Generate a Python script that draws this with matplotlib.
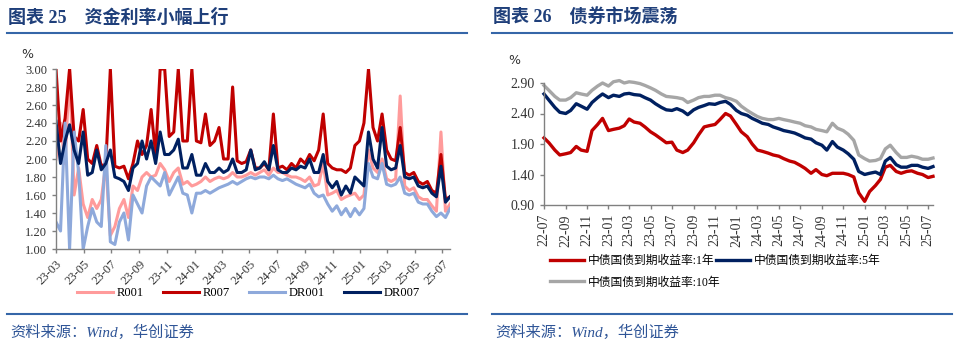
import pandas as pd
import matplotlib.pyplot as plt
import matplotlib.dates as mdates
from matplotlib.lines import Line2D

plt.rcParams['font.family'] = ['Liberation Serif', 'Noto Sans CJK SC']

# ---- data: left chart (every 10 days from 2023-03-01) ----
left_start = '2023-03-01'
r001 = [2.00, 2.40, 1.95, 3.00, 1.60, 1.90, 1.50, 1.35, 1.55, 1.45,
        1.55, 1.95, 1.15, 1.25, 1.45, 1.55, 1.35, 1.70, 1.65, 1.80,
        1.85, 1.80, 1.82, 1.95, 1.88, 1.75, 1.85, 1.90, 1.72, 1.75,
        1.70, 1.72, 1.75, 1.80, 1.75, 1.78, 1.80, 1.78, 1.80, 1.85,
        1.80, 1.80, 1.82, 1.85, 1.82, 1.85, 1.88, 1.82, 1.90, 1.85,
        1.85, 1.82, 1.80, 1.80, 1.78, 1.75, 1.80, 1.70, 1.72, 1.95,
        1.60, 1.62, 1.65, 1.55, 1.58, 1.60, 1.62, 1.55, 1.60, 2.10,
        1.90, 1.85, 2.00, 1.78, 1.75, 1.78, 2.70, 1.70, 1.65, 1.68,
        1.58, 1.55, 1.55, 1.48, 1.42, 2.30, 1.42, 1.50]
r007 = [3.00, 2.20, 2.45, 3.00, 2.25, 2.20, 2.55, 2.00, 1.95, 2.15,
        1.92, 1.95, 3.00, 1.92, 1.90, 1.92, 1.78, 1.95, 2.20, 2.05,
        2.15, 2.55, 2.05, 3.00, 3.00, 2.25, 2.30, 3.00, 2.20, 2.20,
        3.00, 2.20, 2.18, 2.50, 2.15, 2.20, 2.35, 2.00, 2.00, 2.80,
        1.98, 1.95, 1.97, 2.10, 1.90, 1.90, 1.95, 1.88, 2.50, 1.90,
        1.92, 1.88, 1.95, 1.90, 2.00, 1.95, 2.05, 1.98, 2.10, 2.50,
        1.95, 1.90, 1.88, 1.88, 1.85, 1.90, 2.15, 2.20, 2.40, 3.00,
        2.35, 2.20, 2.50, 2.10, 2.00, 1.98, 2.35, 1.85, 1.82, 1.85,
        1.75, 1.72, 1.75, 1.65, 1.62, 2.05, 1.55, 1.58]
dr001 = [1.30, 1.20, 2.40, 1.00, 2.30, 1.85, 1.00, 1.25, 1.45, 1.30,
         1.25, 2.15, 1.08, 1.05, 1.30, 1.40, 1.10, 1.60, 1.50, 1.40,
         1.70, 1.80, 1.75, 1.70, 1.85, 1.60, 1.70, 1.80, 1.62, 1.60,
         1.40, 1.62, 1.62, 1.65, 1.62, 1.65, 1.68, 1.70, 1.72, 1.75,
         1.72, 1.75, 1.78, 1.80, 1.78, 1.80, 1.80, 1.78, 1.82, 1.78,
         1.76, 1.78, 1.75, 1.72, 1.70, 1.68, 1.72, 1.62, 1.58, 1.60,
         1.50, 1.42, 1.48, 1.38, 1.45, 1.36, 1.45, 1.38, 1.45, 1.95,
         1.80, 1.78, 1.95, 1.72, 1.70, 1.72, 1.80, 1.62, 1.60, 1.62,
         1.52, 1.50, 1.50, 1.42, 1.36, 1.40, 1.35, 1.45]
dr007 = [2.42, 1.95, 2.20, 2.38, 2.10, 1.95, 2.30, 1.82, 1.85, 2.10,
         1.88, 1.95, 2.10, 1.80, 1.78, 1.75, 1.65, 1.90, 1.95, 2.20,
         2.00, 2.20, 1.95, 2.30, 2.05, 2.05, 2.10, 2.22, 1.90, 1.90,
         2.05, 1.82, 1.82, 1.95, 1.85, 1.85, 1.90, 1.85, 1.88, 2.00,
         1.85, 1.85, 1.88, 2.10, 1.88, 1.90, 1.97, 1.88, 2.15, 1.88,
         1.85, 1.85, 1.90, 1.88, 1.92, 1.90, 2.00, 1.85, 1.85, 2.05,
         1.75, 1.68, 1.75, 1.60, 1.70, 1.62, 1.80, 1.75, 1.70, 2.30,
         2.00, 1.90, 2.35, 1.92, 1.88, 1.90, 2.15, 1.80, 1.78, 1.80,
         1.70, 1.68, 1.70, 1.62, 1.58, 1.92, 1.52, 1.58]

# ---- data: right chart (semi-monthly from 2022-07-01) ----
right_start = '2022-07-01'
y1 = [2.00, 1.92, 1.80, 1.72, 1.74, 1.76, 1.86, 1.80, 1.78, 2.12,
      2.22, 2.32, 2.12, 2.14, 2.16, 2.20, 2.31, 2.26, 2.24, 2.18,
      2.10, 2.05, 1.98, 1.92, 1.93, 1.80, 1.76, 1.80, 1.92, 2.05,
      2.18, 2.20, 2.22, 2.30, 2.40, 2.36, 2.22, 2.10, 2.02, 1.90,
      1.80, 1.78, 1.75, 1.72, 1.70, 1.66, 1.62, 1.60, 1.55, 1.50,
      1.42, 1.48, 1.40, 1.38, 1.42, 1.42, 1.42, 1.40, 1.36, 1.10,
      0.96, 1.12, 1.22, 1.32, 1.52, 1.55, 1.45, 1.42, 1.45, 1.46,
      1.42, 1.40, 1.35, 1.37]
y5 = [2.72, 2.62, 2.50, 2.42, 2.40, 2.45, 2.56, 2.52, 2.47, 2.58,
      2.66, 2.72, 2.66, 2.70, 2.68, 2.72, 2.73, 2.71, 2.70, 2.66,
      2.62, 2.56, 2.50, 2.46, 2.45, 2.48, 2.44, 2.38, 2.46, 2.50,
      2.53, 2.56, 2.55, 2.58, 2.60, 2.55, 2.45, 2.40, 2.37, 2.32,
      2.28, 2.24, 2.22, 2.18, 2.15, 2.12, 2.10, 2.08, 2.04, 2.00,
      1.98, 1.92, 1.88, 1.80, 1.94, 1.85, 1.80, 1.74, 1.65, 1.45,
      1.40, 1.42, 1.44, 1.40, 1.62, 1.68, 1.56, 1.52, 1.52, 1.55,
      1.55, 1.52, 1.50, 1.53]
y10 = [2.86, 2.78, 2.68, 2.62, 2.62, 2.66, 2.74, 2.72, 2.70, 2.78,
       2.85, 2.90, 2.85, 2.92, 2.94, 2.90, 2.92, 2.91, 2.89, 2.86,
       2.82, 2.78, 2.72, 2.68, 2.67, 2.66, 2.64, 2.58, 2.62, 2.66,
       2.68, 2.68, 2.70, 2.70, 2.66, 2.64, 2.60, 2.52, 2.45, 2.40,
       2.35, 2.32, 2.30, 2.30, 2.32, 2.30, 2.28, 2.26, 2.24, 2.20,
       2.18, 2.14, 2.12, 2.10, 2.24, 2.16, 2.12, 2.06, 1.96, 1.72,
       1.66, 1.62, 1.63, 1.66, 1.82, 1.88, 1.76, 1.68, 1.68, 1.70,
       1.68, 1.65, 1.65, 1.67]

left_dates = pd.date_range(left_start, periods=len(r001), freq='10D')
right_dates = pd.date_range(right_start, periods=len(y1), freq='SMS')

W, H = 960, 354
def fx(x):
    return x / W
def fy(y):
    return 1 - y / H

title_c = '#1F3F7A'
rule_c = '#3566A8'
src_c = '#2F5597'
spine_c = '#808080'

fig = plt.figure(figsize=(9.6, 3.54), dpi=100)

# titles, rules and source lines
for x0, x1, title in [(7, 467, '图表 25    资金利率小幅上行'),
                      (492, 952, '图表 26    债券市场震荡')]:
    fig.text(fx(x0 + 1), fy(18), title, fontsize=13, fontweight='bold',
             color=title_c, va='center', ha='left')
    fig.add_artist(Line2D([fx(x0), fx(x1)], [fy(33), fy(33)], color=rule_c, lw=1.5))
    fig.add_artist(Line2D([fx(x0), fx(x1)], [fy(314), fy(314)], color=rule_c, lw=1.5))
    fig.text(fx(x0 + 3), fy(332), '资料来源：Wind，华创证券', fontsize=11,
             color=src_c, va='center', ha='left', style='italic')

def style_axes(ax, size):
    for s in ['top', 'right']:
        ax.spines[s].set_visible(False)
    for s in ['left', 'bottom']:
        ax.spines[s].set_color(spine_c)
        ax.spines[s].set_linewidth(1)
    ax.tick_params(axis='both', colors=spine_c, length=3, width=1, labelsize=size,
                   labelcolor='#333333')

# ---- left chart ----
ax1 = fig.add_axes([fx(56), fy(249), fx(450) - fx(56), fy(69) - fy(249)])
ax1.plot(left_dates, r001, color='#FF9B9B', lw=2.2, label='R001')
ax1.plot(left_dates, r007, color='#C00000', lw=2.2, label='R007')
ax1.plot(left_dates, dr001, color='#8EA9DB', lw=2.2, label='DR001')
ax1.plot(left_dates, dr007, color='#002060', lw=2.2, label='DR007')
ax1.set_ylim(1.0, 3.0)
ax1.set_yticks([1.0 + 0.2 * k for k in range(11)])
ax1.yaxis.set_major_formatter(plt.FormatStrFormatter('%.2f'))
ax1.set_xlim(left_dates[0], left_dates[-1])
ax1.set_xticks(pd.date_range('2023-03-01', '2025-07-01', freq='2MS'))
ax1.xaxis.set_major_formatter(mdates.DateFormatter('%y-%m'))
style_axes(ax1, 9)
for lab in ax1.get_xticklabels():
    lab.set_rotation(45)
    lab.set_ha('right')
    lab.set_rotation_mode('anchor')
fig.text(fx(27), fy(55), '%', fontsize=9, color='#333333', ha='center', va='center',
         family='DejaVu Sans')
ax1.legend(loc='upper left', bbox_to_anchor=(fx(77), fy(287)),
           bbox_transform=fig.transFigure, ncol=4, frameon=False, fontsize=9,
           handlelength=2.9, handletextpad=0.3, columnspacing=1.5,
           borderpad=0, borderaxespad=0)

# ---- right chart ----
ax2 = fig.add_axes([fx(544), fy(205), fx(933) - fx(544), fy(83) - fy(205)])
l1, = ax2.plot(right_dates, y1, color='#C00000', lw=2.4, clip_on=False,
               label='中债国债到期收益率:1年')
l5, = ax2.plot(right_dates, y5, color='#002060', lw=2.4, clip_on=False,
               label='中债国债到期收益率:5年')
l10, = ax2.plot(right_dates, y10, color='#A6A6A6', lw=2.4, clip_on=False,
                label='中债国债到期收益率:10年')
ax2.set_ylim(0.9, 2.9)
ax2.set_yticks([0.9, 1.4, 1.9, 2.4, 2.9])
ax2.yaxis.set_major_formatter(plt.FormatStrFormatter('%.2f'))
ax2.set_xlim(right_dates[0], right_dates[-1])
ax2.set_xticks(pd.date_range('2022-07-01', '2025-07-01', freq='2MS'))
ax2.xaxis.set_major_formatter(mdates.DateFormatter('%y-%m'))
style_axes(ax2, 10)
for lab in ax2.get_xticklabels():
    lab.set_rotation(90)
fig.text(fx(514), fy(61), '%', fontsize=9, color='#333333', ha='center', va='center',
         family='DejaVu Sans')
ax2.legend([l1, l10, l5], [l1.get_label(), l10.get_label(), l5.get_label()],
           loc='upper left', bbox_to_anchor=(fx(550), fy(255)),
           bbox_transform=fig.transFigure, ncol=2, frameon=False, fontsize=8.5,
           handlelength=2.9, handletextpad=0.3, columnspacing=-0.4,
           labelspacing=0.8, borderpad=0, borderaxespad=0)

fig.savefig('out.png', dpi=100)
